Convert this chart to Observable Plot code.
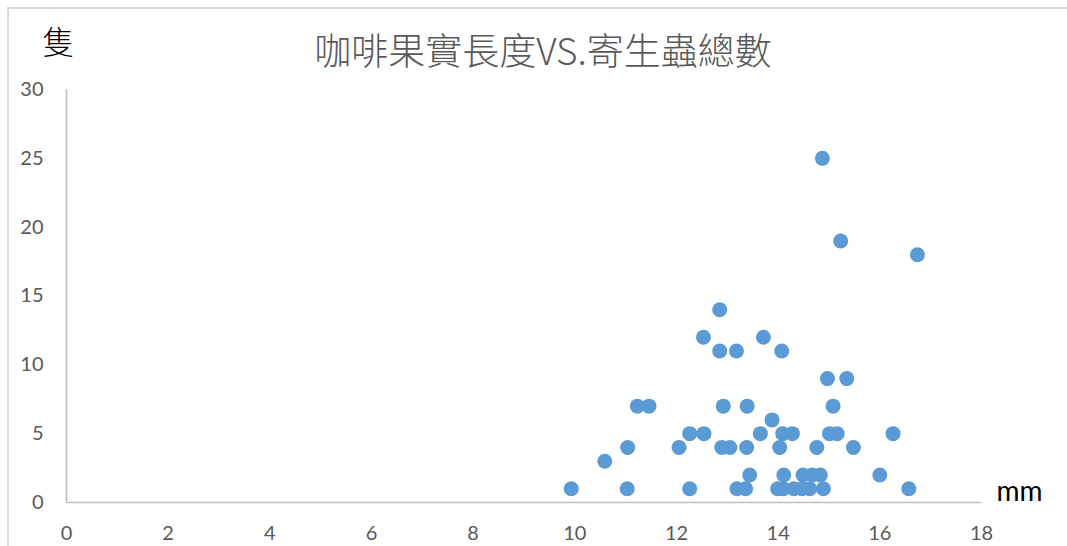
<!DOCTYPE html>
<html>
<head>
<meta charset="utf-8">
<script src="https://cdn.jsdelivr.net/npm/d3@7"></script>
<script src="https://cdn.jsdelivr.net/npm/@observablehq/plot@0.6"></script>
<style>
  html, body { margin: 0; padding: 0; background: #fff; }
  #chart { position: relative; width: 1067px; height: 546px; overflow: hidden; background: #fff; }
  #chart svg { display: block; }
  #frame {
    position: absolute; left: 7px; top: 7px; right: -20px; bottom: -20px;
    border-left: 2px solid #d9d9d9; border-top: 2px solid #d9d9d9;
    pointer-events: none;
  }
</style>
</head>
<body>
<div id="chart"><div id="frame"></div></div>
<script>
// Fruit length (mm) and parasite count for each sampled coffee cherry
const lengths = [
  9.93, 11.03, 12.26, 13.19, 13.36, 13.99, 14.10, 14.31, 14.47, 14.62, 14.89, 16.57,
  13.44, 14.11, 14.49, 14.67, 14.83, 16.00,
  10.59,
  11.04, 12.05, 12.89, 13.05, 13.38, 14.03, 14.76, 15.48,
  12.26, 12.54, 13.65, 14.09, 14.28, 15.01, 15.16, 16.26,
  13.88,
  11.23, 11.46, 12.92, 13.39, 15.08,
  14.97, 15.35,
  12.85, 13.18, 14.07,
  12.53, 13.71,
  12.85,
  16.74,
  15.23,
  14.87
];
const counts = [
  1, 1, 1, 1, 1, 1, 1, 1, 1, 1, 1, 1,
  2, 2, 2, 2, 2, 2,
  3,
  4, 4, 4, 4, 4, 4, 4, 4,
  5, 5, 5, 5, 5, 5, 5, 5,
  6,
  7, 7, 7, 7, 7,
  9, 9,
  11, 11, 11,
  12, 12,
  14,
  18,
  19,
  25
];
const xTicks = [0, 2, 4, 6, 8, 10, 12, 14, 16, 18];
const yTicks = [0, 5, 10, 15, 20, 25, 30];
const titleText = "咖啡果實長度VS.寄生蟲總數";
const yUnit = "隻";
const xUnit = "mm";

const data = lengths.map((len, i) => ({length: len, count: counts[i]}));

const axisGray = "#bfbfbf";
const textGray = "#595959";

const chart = Plot.plot({
  width: 1067,
  height: 546,
  marginLeft: 66,
  marginRight: 86,
  marginTop: 89,
  marginBottom: 44,
  style: {fontFamily: "Lato, 'Liberation Sans', sans-serif", fontSize: "20px", color: textGray, background: "transparent"},
  x: {domain: [0, 18]},
  y: {domain: [0, 30]},
  marks: [
    Plot.axisX({ticks: xTicks, tickSize: 0, tickPadding: 23, label: null, fill: textGray}),
    Plot.axisY({ticks: yTicks, tickSize: 0, tickPadding: 23, label: null, fill: textGray}),
    Plot.ruleY([0], {stroke: axisGray, strokeWidth: 1.6}),
    Plot.ruleX([0], {stroke: axisGray, strokeWidth: 1.6}),
    Plot.dot(data, {x: "length", y: "count", r: 7.5, fill: "#5b9bd5", stroke: "none"}),
    Plot.text([titleText], {
      text: d => d, frameAnchor: "top", dx: 19, dy: -36,
      textAnchor: "middle", lineAnchor: "middle",
      fontSize: 37, fill: textGray, fontFamily: "'Noto Sans CJK TC', sans-serif", fontWeight: 300
    }),
    Plot.text([yUnit], {
      text: d => d, frameAnchor: "top-left", dx: -8, dy: -46,
      textAnchor: "middle", lineAnchor: "middle",
      fontSize: 32, fill: "#000", fontFamily: "'Noto Sans CJK TC', sans-serif", fontWeight: 300
    }),
    Plot.text([xUnit], {
      text: d => d, frameAnchor: "bottom-right", dx: 38, dy: -10,
      textAnchor: "middle", lineAnchor: "middle",
      fontSize: 28, fill: "#000", fontFamily: "Lato, sans-serif"
    })
  ]
});

document.getElementById("chart").prepend(chart);
</script>
</body>
</html>
